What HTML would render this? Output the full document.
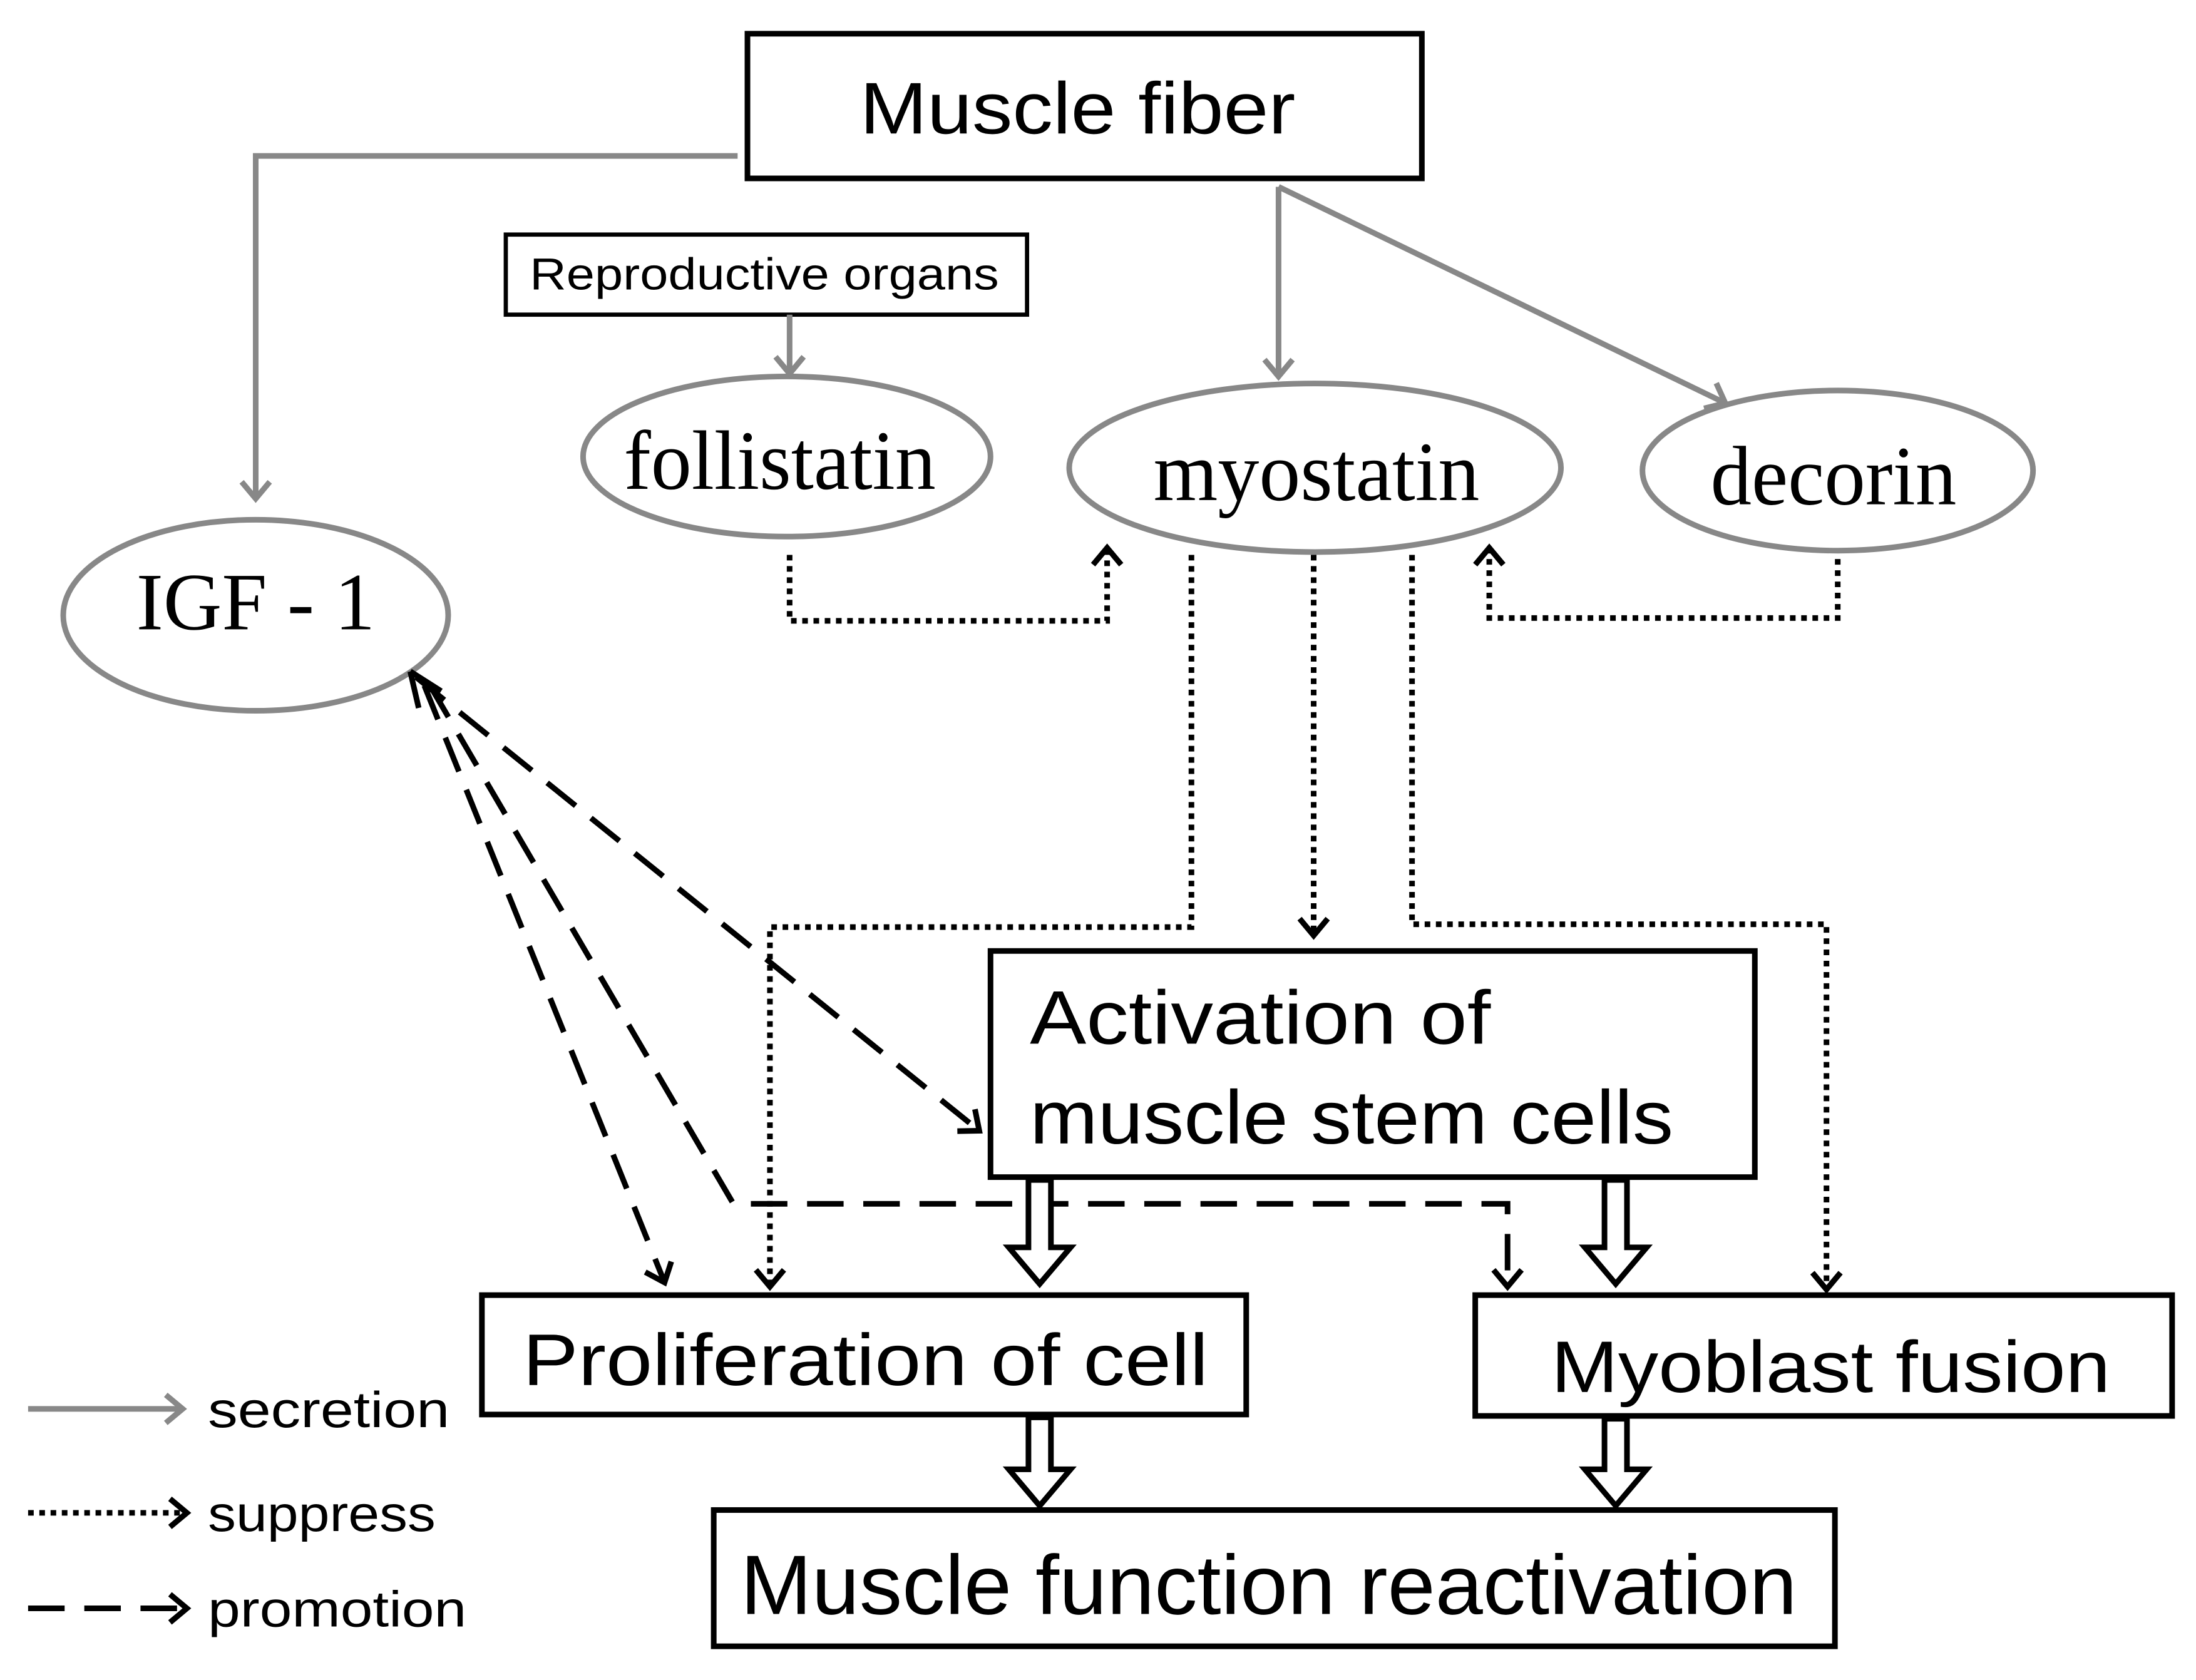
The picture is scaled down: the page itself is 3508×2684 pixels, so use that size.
<!DOCTYPE html>
<html><head><style>html,body{margin:0;padding:0;background:#fff}svg{display:block}</style></head><body>
<svg width="3508" height="2684" viewBox="0 0 1563 1196" preserveAspectRatio="none" xmlns="http://www.w3.org/2000/svg">
<defs>
<marker id="g" markerWidth="24" markerHeight="24" refX="20" refY="12" orient="auto" markerUnits="userSpaceOnUse" viewBox="0 0 24 24"><path d="M8,2 L20,12 L8,22" fill="none" stroke="#888" stroke-width="4"/></marker>
<marker id="k" markerWidth="24" markerHeight="24" refX="20" refY="12" orient="auto" markerUnits="userSpaceOnUse" viewBox="0 0 24 24"><path d="M8,2 L20,12 L8,22" fill="none" stroke="#000" stroke-width="4"/></marker>
</defs>
<g fill="none" stroke="#000" stroke-width="4">
<rect x="532" y="24" width="480" height="103"/>
<rect x="360" y="167" width="371" height="57" stroke-width="3"/>
<rect x="705" y="677" width="544" height="161"/>
<rect x="343" y="922" width="544" height="85"/>
<rect x="1050" y="922" width="496" height="86"/>
<rect x="508" y="1075" width="798" height="97"/>
</g>
<g fill="none" stroke="#888" stroke-width="4">
<ellipse cx="560" cy="325" rx="145" ry="57"/>
<ellipse cx="936" cy="333" rx="175" ry="60"/>
<ellipse cx="1308" cy="335" rx="139" ry="57"/>
<ellipse cx="182" cy="438" rx="137" ry="68"/>
<polyline points="525,111 182,111 182,355" marker-end="url(#g)"/>
<line x1="562" y1="224" x2="562" y2="266" marker-end="url(#g)"/>
<polyline points="910,133 910,268" marker-end="url(#g)"/>
<line x1="910" y1="133" x2="1228" y2="287" marker-end="url(#g)"/>
<line x1="20" y1="1003" x2="130" y2="1003" marker-end="url(#g)"/>
</g>
<g fill="none" stroke="#000" stroke-width="4" stroke-dasharray="4,4">
<polyline points="562,395 562,442 788,442 788,390" marker-end="url(#k)"/>
<polyline points="1308,398 1308,440 1060,440 1060,390" marker-end="url(#k)"/>
<polyline points="848,395 848,660 548,660 548,916" marker-end="url(#k)"/>
<polyline points="935,395 935,666" marker-end="url(#k)"/>
<polyline points="1005,395 1005,658 1300,658 1300,918" marker-end="url(#k)"/>
<line x1="20" y1="1077" x2="133" y2="1077" marker-end="url(#k)"/>
</g>
<g fill="none" stroke="#000" stroke-width="4" stroke-dasharray="26,14">
<line x1="296" y1="482" x2="697" y2="805" marker-end="url(#k)"/>
<line x1="302" y1="488" x2="473" y2="913" marker-end="url(#k)"/>
<polyline points="306,488 522,857 1073,857 1073,916" marker-end="url(#k)"/>
<line x1="20" y1="1145" x2="133" y2="1145" marker-end="url(#k)"/>
</g>
<g fill="none" stroke="#000" stroke-width="4">
<path d="M292,478 L298,504 M292,478 L314,492"/>
</g>
<g fill="#fff" stroke="#000" stroke-width="4" stroke-linejoin="miter">
<polygon points="732,840 748,840 748,888 762,888 740,914 718,888 732,888"/>
<polygon points="1142,840 1158,840 1158,888 1172,888 1150,914 1128,888 1142,888"/>
<polygon points="732,1009 748,1009 748,1046 762,1046 740,1072 718,1046 732,1046"/>
<polygon points="1142,1010 1158,1010 1158,1046 1172,1046 1150,1072 1128,1046 1142,1046"/>
</g>
<g font-family="Liberation Sans, sans-serif" fill="#000" lengthAdjust="spacingAndGlyphs">
<text x="612" y="95" font-size="52" textLength="310" lengthAdjust="spacingAndGlyphs">Muscle fiber</text>
<text x="377" y="206" font-size="32" textLength="334" lengthAdjust="spacingAndGlyphs">Reproductive organs</text>
<text x="733" y="743" font-size="54" textLength="328" lengthAdjust="spacingAndGlyphs">Activation of</text>
<text x="733" y="814" font-size="54" textLength="458" lengthAdjust="spacingAndGlyphs">muscle stem cells</text>
<text x="372" y="986" font-size="52" textLength="488" lengthAdjust="spacingAndGlyphs">Proliferation of cell</text>
<text x="1104" y="991" font-size="52" textLength="398" lengthAdjust="spacingAndGlyphs">Myoblast fusion</text>
<text x="527" y="1149" font-size="60" textLength="752" lengthAdjust="spacingAndGlyphs">Muscle function reactivation</text>
<text x="148" y="1016" font-size="36" textLength="172" lengthAdjust="spacingAndGlyphs">secretion</text>
<text x="148" y="1090" font-size="36" textLength="162" lengthAdjust="spacingAndGlyphs">suppress</text>
<text x="148" y="1158" font-size="36" textLength="184" lengthAdjust="spacingAndGlyphs">promotion</text>
</g>
<g font-family="Liberation Serif, serif" fill="#000" text-anchor="middle">
<text x="555" y="348" font-size="60" textLength="222" lengthAdjust="spacingAndGlyphs">follistatin</text>
<text x="937" y="356" font-size="60" textLength="232" lengthAdjust="spacingAndGlyphs">myostatin</text>
<text x="1305" y="359" font-size="60" textLength="175" lengthAdjust="spacingAndGlyphs">decorin</text>
<text x="182" y="448" font-size="58" textLength="170" lengthAdjust="spacingAndGlyphs">IGF - 1</text>
</g>
</svg>
</body></html>
